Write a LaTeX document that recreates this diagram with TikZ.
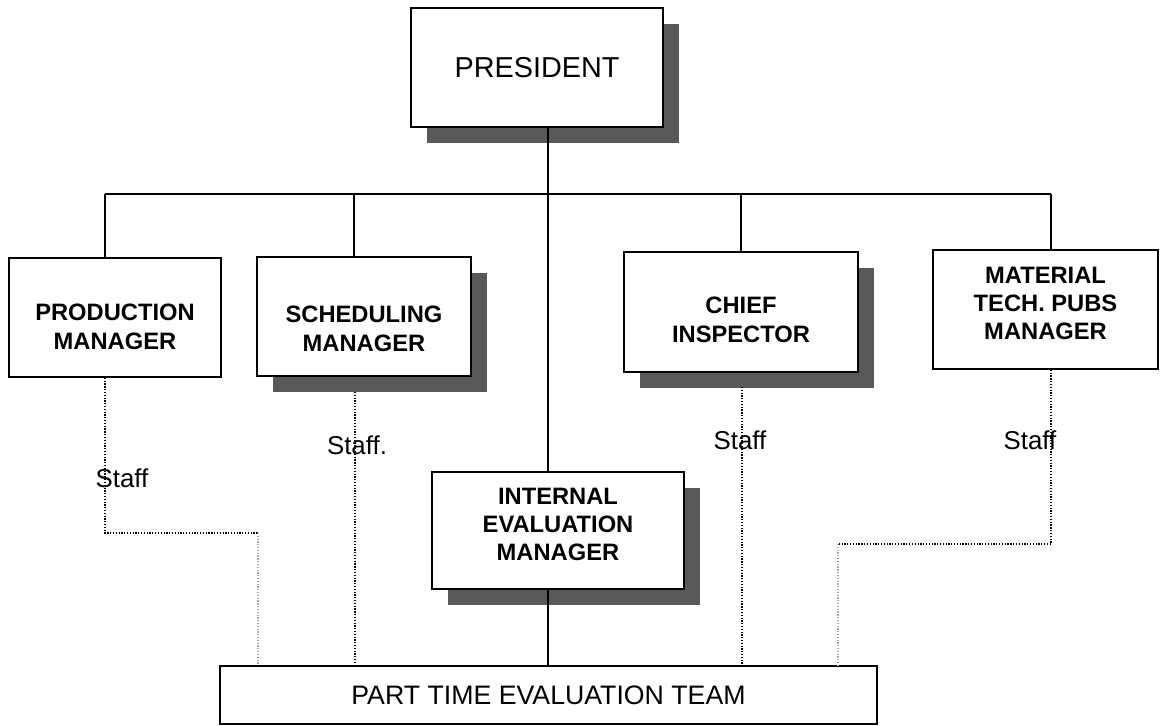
\documentclass[tikz,border=0pt]{standalone}
\usepackage{fontspec}
\setmainfont{Liberation Sans}
\usetikzlibrary{shadows}

% struts to place the text lines inside the boxes
\newcommand{\padtop}[1]{\rule{0pt}{#1}}
\newcommand{\padbot}[1]{\rule[-#1]{0pt}{#1}}

\begin{document}
\begin{tikzpicture}[
    x=0.02cm, y=-0.02cm,
    box/.style={draw, line width=1pt, fill=white, align=center, inner sep=0pt,
        font=\bfseries\fontsize{13.5}{17}\selectfont},
    shadowbox/.style={box, drop shadow={shadow xshift=0.32cm, shadow yshift=-0.32cm,
        fill=black!65, opacity=1}},
    threeline/.style={font=\bfseries\fontsize{13.5}{16}\selectfont},
    link/.style={line width=0.8pt},
    staffline/.style={line width=0.7pt, dash pattern=on 0.7pt off 0.9pt},
    faintline/.style={staffline, draw=black!35},
    stafflabel/.style={font=\fontsize{14.7}{17}\selectfont, inner sep=0pt}
    ]
    \useasboundingbox (0,0) rectangle (1162,726);

    % boxes
    \node [shadowbox, font=\fontsize{16.4}{20}\selectfont, minimum width=5.04cm, minimum height=2.38cm]
        (pres) at (537,67.5) {PRESIDENT};
    \node [box, minimum width=4.24cm, minimum height=2.38cm]
        (prod) at (115,317.5) {\padtop{20.1pt}PRODUCTION\\MANAGER};
    \node [shadowbox, minimum width=4.28cm, minimum height=2.38cm]
        (sched) at (364,316.5) {\padtop{23.5pt}SCHEDULING\\MANAGER};
    \node [shadowbox, minimum width=4.68cm, minimum height=2.4cm]
        (chief) at (741,312) {\padtop{18.4pt}CHIEF\\INSPECTOR};
    \node [box, threeline, minimum width=4.5cm, minimum height=2.38cm]
        (mat) at (1045.5,309.5) {MATERIAL\\TECH. PUBS\\MANAGER\padbot{7.4pt}};
    \node [shadowbox, threeline, minimum width=5.04cm, minimum height=2.34cm]
        (intev) at (558,530.5) {INTERNAL\\EVALUATION\\MANAGER\padbot{7.4pt}};
    \node [box, font=\fontsize{15.2}{18}\selectfont, minimum width=13.14cm, minimum height=1.16cm]
        (team) at (548.5,695) {PART TIME EVALUATION TEAM};

    % tree
    \coordinate (bus) at (548,194);
    \coordinate (tapP) at (105,194);
    \coordinate (tapS) at (354,194);
    \coordinate (tapC) at (741,194);
    \coordinate (tapM) at (1051,194);
    \draw [link] (pres.south -| bus) -- (bus);
    \draw [link] (tapP) -- (tapM);
    \draw [link] (tapP) -- (tapP |- prod.north);
    \draw [link] (tapS) -- (tapS |- sched.north);
    \draw [link] (tapC) -- (tapC |- chief.north);
    \draw [link] (tapM) -- (tapM |- mat.north);
    \draw [link] (bus) -- (bus |- intev.north);
    \draw [link] (bus |- intev.south) -- (bus |- team.north);

    % staff lines
    \coordinate (stP) at (258,533);
    \coordinate (stS) at (355,392);
    \coordinate (stC) at (742,387);
    \coordinate (stM) at (838,544);
    \draw [staffline] (tapP |- prod.south) |- (stP);
    \draw [faintline] (stP) -- (stP |- team.north);
    \draw [staffline] (stS) -- (stS |- team.north);
    \draw [staffline] (stC) -- (stC |- team.north);
    \draw [staffline] (tapM |- mat.south) |- (stM);
    \draw [faintline] (stM) -- (stM |- team.north);

    \node [stafflabel] (lblP) at (122,478) {Staff};
    \node [stafflabel] (lblS) at (357,445) {Staff.};
    \node [stafflabel] (lblC) at (740,440) {Staff};
    \node [stafflabel] (lblM) at (1030,440) {Staff};
\end{tikzpicture}
\end{document}
